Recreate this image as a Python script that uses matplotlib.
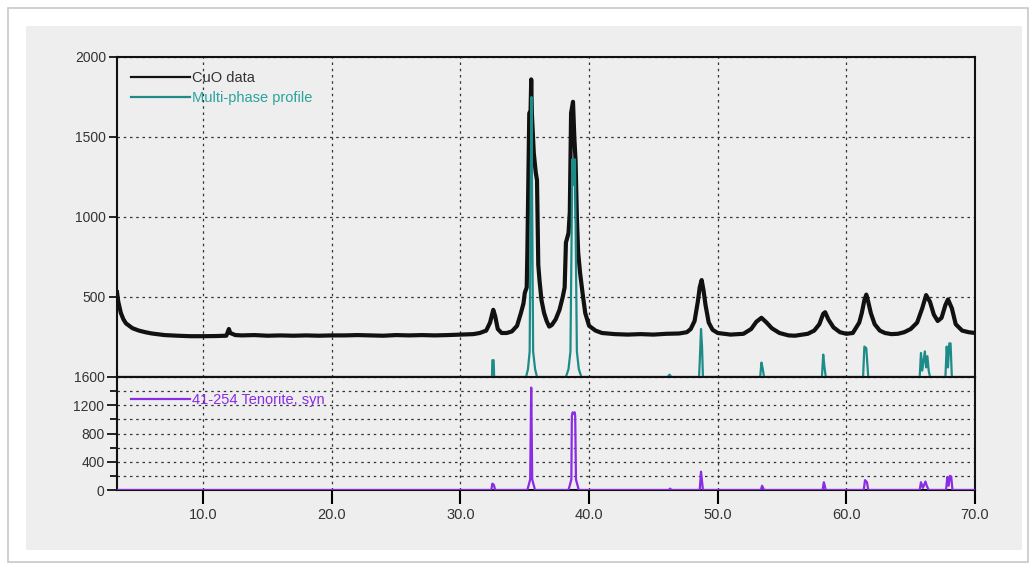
import numpy as np
import matplotlib
matplotlib.use('Agg')
import matplotlib.pyplot as plt
from matplotlib.patches import Rectangle
from matplotlib.ticker import FormatStrFormatter, MultipleLocator

plt.rcParams['font.family'] = ['Liberation Sans', 'DejaVu Sans']

cuo_2theta = [3.3, 3.4, 3.6, 3.8, 4.0, 4.5, 5.0, 5.5, 6.0, 7.0, 8.0, 9.0, 10.0, 11.0,
              11.8, 12.0, 12.1, 12.5, 13.0, 14.0, 15.0, 16.0, 17.0, 18.0, 19.0, 20.0,
              21.0, 22.0, 23.0, 24.0, 25.0, 26.0, 27.0, 28.0, 29.0, 30.0, 31.0, 31.5,
              32.0, 32.3, 32.55, 32.7, 32.9, 33.2, 33.6, 34.0, 34.4, 34.7, 34.9, 35.0,
              35.15, 35.2, 35.35, 35.45, 35.5, 35.55, 35.7, 35.85, 35.95, 36.05, 36.15,
              36.3, 36.5, 36.7, 36.9, 37.1, 37.4, 37.7, 37.95, 38.1, 38.2, 38.4, 38.5,
              38.6, 38.75, 38.85, 38.95, 39.05, 39.15, 39.3, 39.5, 39.7, 40.0, 40.5,
              41.0, 42.0, 43.0, 44.0, 45.0, 46.0, 47.0, 47.6, 47.9, 48.2, 48.45, 48.6,
              48.75, 48.9, 49.05, 49.3, 49.6, 50.0, 51.0, 52.0, 52.6, 53.0, 53.4, 53.8,
              54.2, 54.8, 55.5, 56.0, 57.0, 57.5, 57.9, 58.2, 58.35, 58.6, 59.0, 59.5,
              60.0, 60.5, 61.0, 61.2, 61.4, 61.55, 61.7, 61.9, 62.2, 62.6, 63.0, 63.5,
              64.0, 64.5, 65.0, 65.5, 65.9, 66.2, 66.5, 66.8, 67.1, 67.4, 67.7, 67.9,
              68.2, 68.5, 69.0, 69.5, 70.0]
cuo_counts = [530, 470, 400, 360, 335, 305, 290, 280, 272, 262, 258, 255, 255, 256,
              258, 300, 275, 262, 260, 262, 258, 260, 258, 260, 258, 260,
              260, 262, 260, 258, 262, 260, 262, 260, 262, 265, 268, 275,
              290, 340, 420, 380, 300, 275, 275, 285, 320, 400, 460, 525,
              560, 775, 1650, 1660, 1860, 1650, 1400, 1280, 1230, 700, 600,
              480, 400, 350, 315, 325, 360, 420, 500, 560, 840, 900, 1030,
              1650, 1720, 1500, 1350, 1000, 780, 650, 520, 400, 320, 290,
              275, 268, 265, 268, 265, 270, 272, 280, 300, 350, 470, 560,
              606, 540, 450, 340, 295, 275, 265, 270, 300, 345, 370, 340,
              305, 275, 260, 258, 270, 290, 330, 395, 405, 360, 310, 280,
              270, 275, 340, 400, 480, 515, 470, 400, 330, 290, 275, 268,
              270, 280, 300, 340, 430, 512, 470, 390, 350, 370, 450, 485,
              430, 330, 290, 280, 275]

# calculated multi-phase profile
fit_2theta = [3.3, 32.45, 32.48, 32.58, 32.62,
              35.1, 35.25, 35.38, 35.45, 35.52, 35.58, 35.65, 35.8, 35.95,
              38.2, 38.4, 38.55, 38.7, 38.8, 38.9, 39.05, 39.2, 39.4,
              46.1, 46.25, 46.4,
              48.55, 48.65, 48.7, 48.78, 48.85,
              53.3, 53.4, 53.5, 53.6,
              58.1, 58.2, 58.3, 58.4,
              61.3, 61.4, 61.55, 61.65, 61.7,
              65.7, 65.8, 65.9, 66.1, 66.2, 66.3, 66.4, 66.5,
              67.7, 67.8, 67.9, 68.0, 68.1, 68.2, 70.0]
fit_counts = [0, 0, 105, 105, 0,
              0, 50, 160, 1000, 1750, 1000, 160, 50, 0,
              0, 50, 160, 1360, 1200, 1360, 160, 50, 0,
              0, 15, 0,
              0, 190, 300, 190, 0,
              0, 90, 50, 0,
              0, 140, 60, 0,
              0, 190, 180, 60, 0,
              0, 150, 40, 160, 60, 130, 40, 0,
              0, 190, 60, 210, 210, 0, 0]

# reference card 41-254 tenorite
ten_2theta = [3.3, 32.4, 32.48, 32.6, 32.7,
              35.2, 35.35, 35.42, 35.5, 35.58, 35.65, 35.8,
              38.4, 38.55, 38.62, 38.66, 38.72, 38.8, 38.88, 38.92, 38.98, 39.05, 39.2,
              46.2, 46.3, 46.4,
              48.6, 48.7, 48.78, 48.85,
              53.35, 53.45, 53.6,
              58.15, 58.25, 58.4,
              61.35, 61.45, 61.6, 61.7,
              65.7, 65.8, 65.95, 66.15, 66.25, 66.4,
              67.75, 67.85, 67.95, 68.05, 68.15, 68.25, 70.0]
ten_counts = [0, 0, 90, 70, 0,
              0, 100, 150, 1450, 150, 100, 0,
              0, 100, 150, 1050, 1100, 1080, 1100, 1050, 150, 100, 0,
              0, 20, 0,
              0, 260, 120, 0,
              0, 60, 0,
              0, 110, 0,
              0, 140, 110, 0,
              0, 110, 30, 120, 60, 0,
              0, 185, 60, 200, 190, 0, 0]

xticks = [10, 20, 30, 40, 50, 60, 70]

black = '#111111'
teal = '#1d8c88'
teal_txt = '#2aa39c'
purple = '#8a2be6'
panel = '#eeeeee'
grid_kw = dict(color='#333333', linestyle=(0, (2, 3)), linewidth=0.9)

fig = plt.figure(figsize=(10.34, 5.66), dpi=100)
fig.patch.set_facecolor('white')
W, H = 1034.0, 566.0
fig.patches.append(Rectangle((8 / W, 1 - 562 / H), 1020 / W, 554 / H, transform=fig.transFigure,
                             facecolor='white', edgecolor='#c8c8c8', linewidth=1.2, zorder=-3))
fig.patches.append(Rectangle((26 / W, 1 - 550 / H), 996 / W, 524 / H, transform=fig.transFigure,
                             facecolor=panel, edgecolor='none', zorder=-2))

left, width = 117 / W, 858 / W
ax1 = fig.add_axes([left, 1 - 377 / H, width, 320 / H])
ax2 = fig.add_axes([left, 1 - 490 / H, width, 113 / H], sharex=ax1)

for ax in (ax1, ax2):
    ax.set_facecolor(panel)
    for s in ax.spines.values():
        s.set_linewidth(1.5)
        s.set_color(black)
    ax.set_xlim(3.3, 70)
    ax.set_xticks(xticks)
    ax.grid(True, axis='x', **grid_kw)

ax1.plot(cuo_2theta, cuo_counts, color=black, lw=3.0, label='CuO data', zorder=3)
ax1.plot(fit_2theta, fit_counts, color=teal, lw=1.6, label='Multi-phase profile', zorder=4)
ax1.set_ylim(0, 2000)
ax1.set_yticks([500, 1000, 1500, 2000])
ax1.grid(True, axis='y', **grid_kw)
ax1.tick_params(axis='x', length=0, labelbottom=False)
ax1.tick_params(axis='y', direction='out', length=6, width=1.2, labelsize=10,
                labelcolor='#333333', pad=2)
leg1 = ax1.legend(loc='upper left', bbox_to_anchor=(0.01, 0.975), frameon=False,
                  handlelength=4.0, handletextpad=0.15, labelspacing=0.45, fontsize=10.5,
                  borderaxespad=0)
leg1.get_lines()[0].set_linewidth(1.6)
for t, c in zip(leg1.get_texts(), ['#333333', teal_txt]):
    t.set_color(c)

ax2.plot(ten_2theta, ten_counts, color=purple, lw=1.6, label='41-254 Tenorite, syn', zorder=3)
ax2.set_ylim(0, 1600)
ax2.set_yticks([0, 400, 800, 1200, 1600])
ax2.yaxis.set_minor_locator(MultipleLocator(200))
ax2.grid(True, axis='y', which='both', **grid_kw)
ax2.xaxis.set_major_formatter(FormatStrFormatter('%.1f'))
ax2.tick_params(axis='x', direction='out', length=10, width=1.5, labelsize=10.5,
                labelcolor='#333333', pad=3)
ax2.tick_params(axis='y', which='major', direction='out', length=7, width=1.2, labelsize=10,
                labelcolor='#333333', pad=2)
ax2.tick_params(axis='y', which='minor', direction='out', length=5, width=1.2)
leg2 = ax2.legend(loc='upper left', bbox_to_anchor=(0.01, 0.91), frameon=False,
                  handlelength=4.0, handletextpad=0.15, fontsize=10.5, borderaxespad=0)
for t in leg2.get_texts():
    t.set_color(purple)

fig.savefig('out.png', dpi=100, facecolor=fig.get_facecolor())
